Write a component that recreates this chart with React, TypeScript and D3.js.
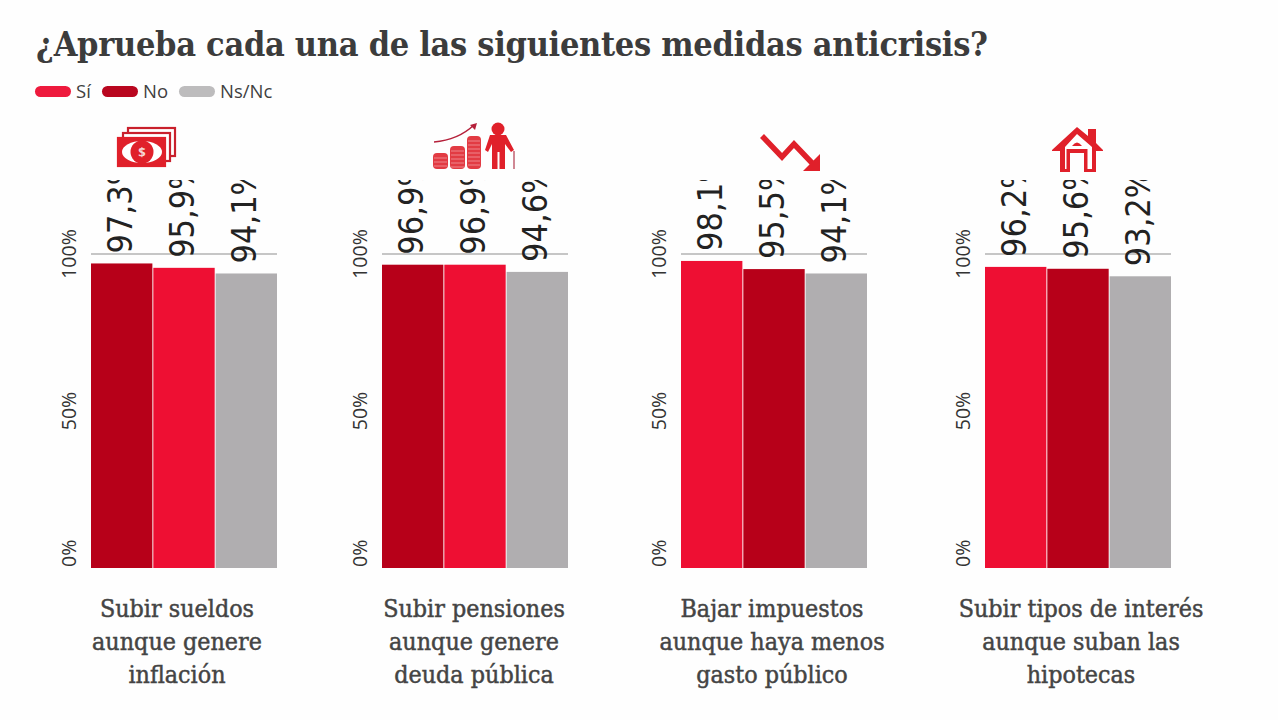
import React, { useRef, useEffect } from "react";
import * as d3 from "d3";

const title = "¿Aprueba cada una de las siguientes medidas anticrisis?";
const legendLabels = ["Sí", "No", "Ns/Nc"];
const legendColors = ["#ee1a3d", "#b9061f", "#bdbcbd"];

const panelNames = [
  ["Subir sueldos", "aunque genere", "inflación"],
  ["Subir pensiones", "aunque genere", "deuda pública"],
  ["Bajar impuestos", "aunque haya menos", "gasto público"],
  ["Subir tipos de interés", "aunque suban las", "hipotecas"],
];
// bar order differs per panel, same as in the picture
const panelSeries = [
  ["No", "Sí", "Ns/Nc"],
  ["No", "Sí", "Ns/Nc"],
  ["Sí", "No", "Ns/Nc"],
  ["Sí", "No", "Ns/Nc"],
];
const panelValues = [
  [97.3, 95.9, 94.1],
  [96.9, 96.9, 94.6],
  [98.1, 95.5, 94.1],
  [96.2, 95.6, 93.2],
];
const ticks = [0, 50, 100];

const barColor: Record<string, string> = { "Sí": "#ee0f33", No: "#b70019", "Ns/Nc": "#b0aeb0" };

const App = () => {
  const node: any = useRef();

  useEffect(() => {
    const svg = d3.select(node.current);
    svg.selectAll("*").remove();

    const serif = "'DejaVu Serif Condensed', 'DejaVu Serif', serif";
    const sans = "'Open Sans', sans-serif";

    svg
      .append("text")
      .attr("x", 36)
      .attr("y", 56)
      .attr("font-family", serif)
      .attr("font-stretch", "condensed")
      .attr("font-weight", 700)
      .attr("font-size", 34)
      .attr("textLength", 952)
      .attr("fill", "#3c3c3c")
      .text(title);

    // legend
    const legendX = [35, 102, 179];
    legendLabels.forEach((label, i) => {
      svg
        .append("rect")
        .attr("x", legendX[i])
        .attr("y", 86)
        .attr("width", 36)
        .attr("height", 11)
        .attr("rx", 5.5)
        .attr("fill", legendColors[i]);
      svg
        .append("text")
        .attr("x", legendX[i] + 41)
        .attr("y", 98)
        .attr("font-family", sans)
        .attr("font-size", 18.5)
        .attr("fill", "#3f3f3f")
        .text(label);
    });

    svg
      .append("defs")
      .append("clipPath")
      .attr("id", "labelClip")
      .append("rect")
      .attr("x", 0)
      .attr("y", 180)
      .attr("width", 1278)
      .attr("height", 540);

    const y = d3.scaleLinear().domain([0, 100]).range([568, 255]);
    const panelStarts = [91, 382, 681, 985];
    const nameCenters = [177, 474, 772, 1081];

    panelNames.forEach((lines, p) => {
      const left = panelStarts[p];
      const x = d3
        .scaleBand()
        .domain(panelSeries[p])
        .range([left, left + 186])
        .paddingInner(0.015);
      const g = svg.append("g");
      const values = panelValues[p];

      g.selectAll("rect")
        .data(panelSeries[p])
        .enter()
        .append("rect")
        .attr("x", (d: string) => x(d)!)
        .attr("y", (_: string, i: number) => y(values[i]))
        .attr("width", x.bandwidth())
        .attr("height", (_: string, i: number) => y(0) - y(values[i]))
        .attr("fill", (d: string) => barColor[d]);

      // 100% line
      g.append("line")
        .attr("x1", left)
        .attr("x2", left + 186)
        .attr("y1", 254)
        .attr("y2", 254)
        .attr("stroke", "#b3b3b3")
        .attr("stroke-width", 1.5);

      // value labels, cut off at the top just like the original
      const labels = g.append("g").attr("clip-path", "url(#labelClip)");
      panelSeries[p].forEach((d, i) => {
        const lx = x(d)! + x.bandwidth() / 2 + 10;
        const ly = y(values[i]) - 10;
        labels
          .append("text")
          .attr("transform", "translate(" + lx + "," + ly + ")rotate(-90)")
          .attr("font-family", "'DejaVu Sans Condensed', 'DejaVu Sans', sans-serif")
          .attr("font-stretch", "condensed")
          .attr("font-size", 34)
          .attr("fill", "#222")
          .text(values[i].toFixed(1).replace(".", ",") + "%");
      });

      // axis labels
      ticks.forEach((t) => {
        g.append("text")
          .attr("transform", "translate(" + (left - 15) + "," + (t === 0 ? 567 : t === 50 ? 411 : 254) + ")rotate(-90)")
          .attr("text-anchor", t === 0 ? "start" : "middle")
          .attr("font-family", sans)
          .attr("font-size", 19.5)
          .attr("fill", "#333")
          .text(t + "%");
      });

      // category name
      lines.forEach((line, i) => {
        g.append("text")
          .attr("x", nameCenters[p])
          .attr("y", 617 + i * 33)
          .attr("text-anchor", "middle")
          .attr("font-family", serif)
          .attr("font-stretch", "condensed")
          .attr("font-size", 24.8)
          .attr("fill", "#444")
          .attr("stroke", "#444")
          .attr("stroke-width", 0.45)
          .text(line);
      });
    });

    // icons
    const red = "#e0202a";
    const money = svg.append("g");
    [2, 1, 0].forEach((k) => {
      money
        .append("rect")
        .attr("x", 118 + k * 5)
        .attr("y", 138 - k * 5)
        .attr("width", 47)
        .attr("height", 28)
        .attr("fill", k === 0 ? red : "#fff")
        .attr("stroke", k === 0 ? red : "#c9202c")
        .attr("stroke-width", 2.2);
    });
    money.append("ellipse").attr("cx", 142).attr("cy", 152).attr("rx", 20).attr("ry", 11).attr("fill", "#fff");
    money.append("circle").attr("cx", 142).attr("cy", 152).attr("r", 11.5).attr("fill", red);
    money
      .append("text")
      .attr("x", 142)
      .attr("y", 157)
      .attr("text-anchor", "middle")
      .attr("font-family", sans)
      .attr("font-weight", 700)
      .attr("font-size", 13)
      .attr("fill", "#f6d5d5")
      .text("$");

    const pension = svg.append("g");
    [
      [433, 153, 15],
      [450, 146, 15],
      [467, 136, 14],
    ].forEach(([cx, top, w]) => {
      pension.append("rect").attr("x", cx).attr("y", top).attr("width", w).attr("height", 169 - top).attr("rx", 4).attr("fill", "#e23b43");
      for (let yy = top + 5; yy < 168; yy += 4) {
        pension.append("line").attr("x1", cx + 1).attr("x2", cx + w - 1).attr("y1", yy).attr("y2", yy).attr("stroke", "#f29a9e").attr("stroke-width", 0.8);
      }
    });
    pension.append("path").attr("d", "M434,142 Q458,140 474,125").attr("fill", "none").attr("stroke", "#b5203a").attr("stroke-width", 1.5);
    pension.append("path").attr("d", "M477,123 L470,125 L475,130 Z").attr("fill", "#b5203a");
    pension.append("circle").attr("cx", 498).attr("cy", 129).attr("r", 6.5).attr("fill", red);
    pension.append("path").attr("d", "M490,135 H506 L514,150 L511,152 L505,144 V169 H499.5 V152 H497.5 V169 H492 V144 L488,152 L485,150 Z").attr("fill", red);
    pension.append("path").attr("d", "M514,151 V169").attr("stroke", "#c06070").attr("stroke-width", 1.5);

    const arrow = svg.append("g");
    arrow.append("path").attr("d", "M762,136 L782,157 L794,144 L813,164").attr("fill", "none").attr("stroke", red).attr("stroke-width", 5.5);
    arrow.append("path").attr("d", "M820,154 V171 H803 Z").attr("fill", red);

    const house = svg.append("g");
    house
      .append("path")
      .attr("fill", red)
      .attr("fill-rule", "evenodd")
      .attr(
        "d",
        "M1077,127 L1088,136 V129 H1096 V143 L1103,150 V151 H1096 V172 H1084 V153 H1070 V172 H1060 V151 H1052 V150 Z"
      );
    house.append("path").attr("fill", "#fff").attr("d", "M1077,134 L1065,147 V169 H1066.5 V149 H1087.5 V169 H1092 V147 Z");
    house.append("path").attr("fill", red).attr("d", "M1072,146 Q1077,139 1082,146 Z");
  }, []);

  return (
    <svg
      ref={node}
      width={1278}
      height={720}
      style={{ position: "absolute", left: 0, top: 0, background: "#fefefe" }}
    ></svg>
  );
};

export default App;
